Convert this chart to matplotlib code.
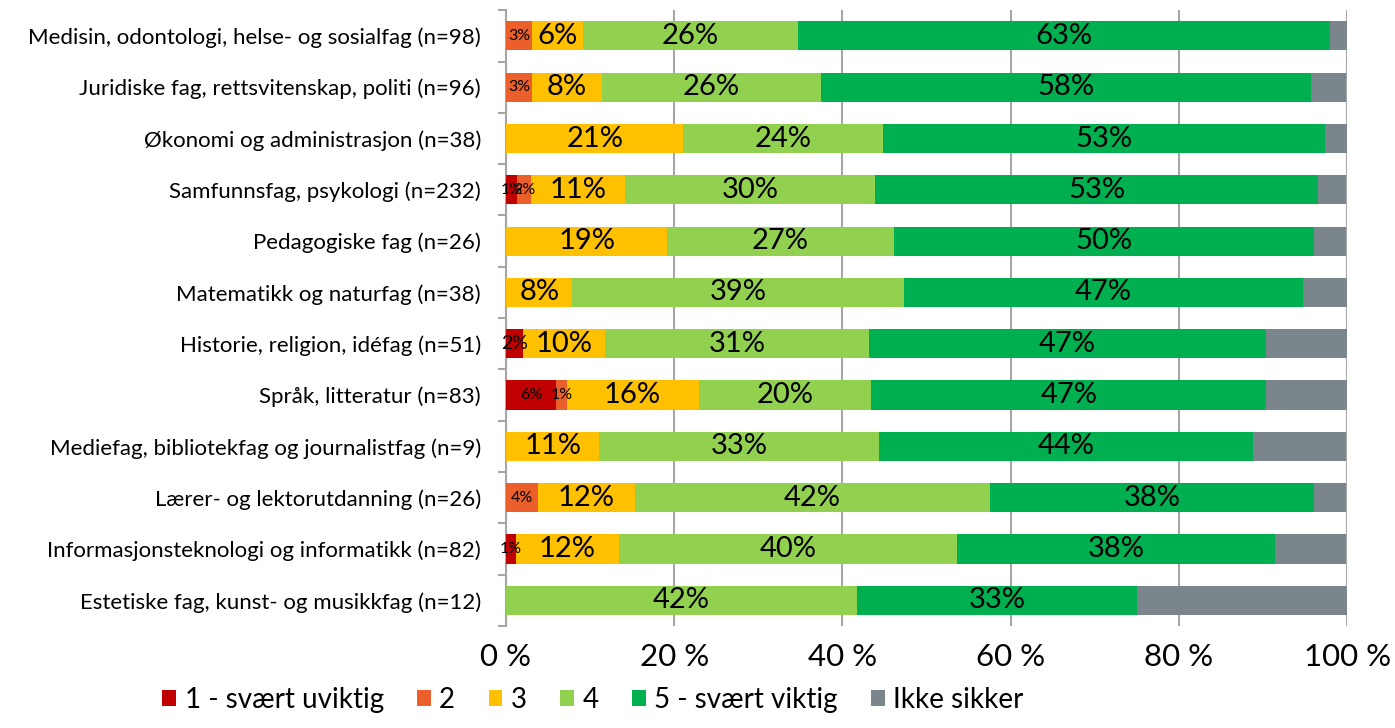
import matplotlib
matplotlib.use("Agg")
import matplotlib.pyplot as plt
import numpy as np

plt.rcParams['font.family'] = ['Lato', 'DejaVu Sans']

categories = [
    "Medisin, odontologi, helse- og sosialfag (n=98)",
    "Juridiske fag, rettsvitenskap, politi (n=96)",
    "Økonomi og administrasjon (n=38)",
    "Samfunnsfag, psykologi (n=232)",
    "Pedagogiske fag (n=26)",
    "Matematikk og naturfag (n=38)",
    "Historie, religion, idéfag (n=51)",
    "Språk, litteratur (n=83)",
    "Mediefag, bibliotekfag og journalistfag (n=9)",
    "Lærer- og lektorutdanning (n=26)",
    "Informasjonsteknologi og informatikk (n=82)",
    "Estetiske fag, kunst- og musikkfag (n=12)",
]

series_names = ["1 - svært uviktig", "2", "3", "4", "5 - svært viktig", "Ikke sikker"]
colors = ["#C00000", "#EB5F2A", "#FFC000", "#92D050", "#00B050", "#7B868C"]

s1 = [0.0, 0.0, 0.0, 1.3, 0.0, 0.0, 2.0, 6.0, 0.0, 0.0, 1.2, 0.0]
s2 = [3.1, 3.1, 0.0, 1.7, 0.0, 0.0, 0.0, 1.2, 0.0, 3.8, 0.0, 0.0]
s3 = [6.1, 8.3, 21.1, 11.2, 19.2, 7.9, 9.8, 15.7, 11.1, 11.5, 12.2, 0.0]
s4 = [25.5, 26.0, 23.7, 29.7, 26.9, 39.4, 31.4, 20.5, 33.3, 42.3, 40.2, 41.7]
s5 = [63.3, 58.3, 52.6, 52.6, 50.0, 47.4, 47.1, 47.0, 44.4, 38.5, 37.8, 33.3]
s6 = [2.0, 4.2, 2.6, 3.4, 3.8, 5.4, 9.8, 9.6, 11.1, 3.8, 8.5, 25.0]
series = [s1, s2, s3, s4, s5, s6]

fig = plt.figure(figsize=(13.95, 7.28), dpi=100)
ax = fig.add_axes([0.3627, 0.140, 0.6030, 0.846])

y = np.arange(len(categories))
left = np.zeros(len(categories))
for i, (vals, col, name) in enumerate(zip(series, colors, series_names)):
    vals = np.array(vals)
    ax.barh(y, vals, left=left, height=0.57, color=col, label=name, zorder=3)
    if i < 5:
        for j, v in enumerate(vals):
            if v <= 0:
                continue
            if i < 2:
                fs = 14 if (i == 0 and j == 6) else 11.5
            else:
                fs = 21
            ax.text(left[j] + v / 2, y[j], f"{round(v):d}%", ha="center", va="center",
                    fontsize=fs, color="black", zorder=4)
    left += vals

ax.set_xlim(0, 100)
ax.set_ylim(len(categories) - 0.5, -0.5)
ax.set_xticks([0, 20, 40, 60, 80, 100])
ax.set_xticklabels(["0 %", "20 %", "40 %", "60 %", "80 %", "100 %"], fontsize=22.5)
ax.set_yticks(y)
ax.set_yticklabels(categories, fontsize=16)
ax.set_yticks(np.arange(-0.5, len(categories) + 0.5, 1), minor=True)
ax.tick_params(axis="y", which="major", length=0, pad=18)
ax.tick_params(axis="y", which="minor", length=6, color="#A6A6A6", width=1.5)
ax.tick_params(axis="x", length=0, pad=12)

ax.xaxis.grid(True, color="#A6A6A6", linewidth=1.5, zorder=0)
ax.spines['right'].set_visible(False)
ax.spines['top'].set_visible(False)
ax.spines['bottom'].set_visible(False)
ax.spines['left'].set_color("#A6A6A6")
ax.spines['left'].set_linewidth(1.5)

leg = fig.legend(loc="lower center", bbox_to_anchor=(0.425, -0.014), ncol=6, frameon=False,
                 fontsize=20, handlelength=0.5, handleheight=0.5, handletextpad=0.3,
                 columnspacing=1.2)

fig.savefig("out.png", dpi=100)
